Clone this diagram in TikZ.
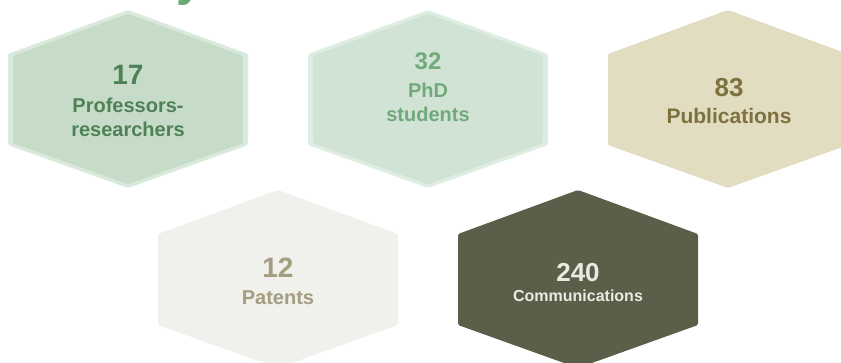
\documentclass[tikz,border=0pt]{standalone}
\usepackage{fontspec}
\setmainfont{Liberation Sans}
\usepackage{tikz}

\definecolor{oneedge}{HTML}{D9E9DB}
\definecolor{onefill}{HTML}{C6DCC9}
\definecolor{onetext}{HTML}{4F8157}
\definecolor{twoedge}{HTML}{DEEDE1}
\definecolor{twofill}{HTML}{D0E3D5}
\definecolor{twotext}{HTML}{72A97B}
\definecolor{threefill}{HTML}{E2DCC1}
\definecolor{threetext}{HTML}{7D723F}
\definecolor{fourfill}{HTML}{F0F0EC}
\definecolor{fourtext}{HTML}{A39D81}
\definecolor{fivefill}{HTML}{5C5E4A}
\definecolor{fivetext}{HTML}{EAEAE2}
\definecolor{titlegreen}{HTML}{6AA873}

\begin{document}
\begin{tikzpicture}[x=1pt, y=-1pt,
    hexpath/.style={insert path={(-120,-45) -- (0,-89) -- (120,-45) -- (120,46) -- (0,89) -- (-120,46) -- cycle}},
    hexcorner/.style={rounded corners=1.5pt},
    num/.style={anchor=base, inner sep=0pt, font=\bfseries\fontsize{#1}{#1}\selectfont},
    lbl/.style={anchor=south, inner sep=0pt, text depth=0pt, align=center, font=\bfseries\fontsize{#1}{24}\selectfont}]
        \useasboundingbox (0,0) rectangle (841,363);
        \clip (0,0) rectangle (841,363);
        %
        \node [anchor=base west, inner sep=0pt, text=titlegreen, font=\bfseries\fontsize{48}{48}\selectfont] (title) at (176,-4) {y};
        %
        \fill [oneedge, shift={(128,99)}, hexcorner, hexpath];
        \fill [onefill, shift={(128,99)}, scale=0.958, hexcorner, hexpath];
        \fill [twoedge, shift={(428,99)}, hexcorner, hexpath];
        \fill [twofill, shift={(428,99)}, scale=0.958, hexcorner, hexpath];
        \fill [threefill, shift={(728,99)}, hexcorner, hexpath];
        %
        \fill [fourfill, shift={(278,279)}, hexcorner, hexpath];
        \fill [fivefill, shift={(578,279)}, hexcorner, hexpath];
        %
        \node [num=28, text=onetext] (profnum) at (128,85) {17};
        \node [lbl=20, text=onetext] (proflbl) at (128,137) {Professors-\\researchers};
        \node [num=24, text=twotext] (phdnum) at (428,70) {32};
        \node [lbl=20, text=twotext] (phdlbl) at (428,122) {PhD\\students};
        \node [num=26, text=threetext] (pubnum) at (729,97) {83};
        \node [lbl=21, text=threetext] (publbl) at (729,124) {Publications};
        %
        \node [num=28, text=fourtext] (patnum) at (278,278) {12};
        \node [lbl=20, text=fourtext] (patlbl) at (278,305) {Patents};
        \node [num=26, text=fivetext] (comnum) at (578,282) {240};
        \node [lbl=16, text=fivetext] (comlbl) at (578,302) {Communications};
      \end{tikzpicture}
\end{document}
